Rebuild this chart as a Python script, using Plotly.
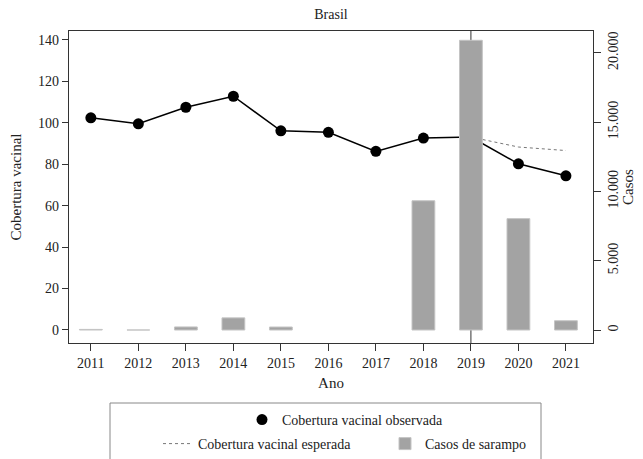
import plotly.graph_objects as go

anos = [2011, 2012, 2013, 2014, 2015, 2016, 2017, 2018, 2019, 2020, 2021]
cobertura_obs = [102.4, 99.5, 107.5, 112.8, 96.1, 95.4, 86.2, 92.6, 93.1, 80.2, 74.4]
anos_esp = [2019, 2020, 2021]
cobertura_esp = [93.1, 88.3, 86.6]
casos = [43, 2, 220, 876, 214, 0, 0, 9325, 20901, 8035, 668]

FONT = "Liberation Serif"
W, H = 643, 459
O = 8  # page body margin offset (screen = figure + O)
# target plot area on screen: x 69..593, y 31..343
L = 69 - O
T = 31 - O
R = W - (593 - O)
B = H - (343 - O)
PW, PH = W - L - R, H - T - B


def px_x(s):  # screen px -> paper x
    return (s - O - L) / PW


def px_y(s):  # screen px -> paper y
    return (H - B - (s - O)) / PH


def cx(s):  # screen px -> container x
    return (s - O) / W


def cy(s):  # screen px -> container y
    return 1 - (s - O) / H


fig = go.Figure()

# observed coverage: connecting line (no legend) + markers (legend)
fig.add_trace(go.Scatter(
    x=anos, y=cobertura_obs, mode="lines",
    line=dict(color="black", width=1.5),
    showlegend=False, hoverinfo="skip", yaxis="y"))
fig.add_trace(go.Scatter(
    x=anos, y=cobertura_obs, mode="markers",
    name="Cobertura vacinal observada",
    marker=dict(color="black", size=11),
    legend="legend", yaxis="y"))

fig.add_trace(go.Scatter(
    x=anos_esp, y=cobertura_esp, mode="lines",
    name="Cobertura vacinal esperada",
    line=dict(color="#777777", width=1, dash="dot"),
    legend="legend2", yaxis="y"))

fig.add_trace(go.Bar(
    x=anos, y=casos, name="Casos de sarampo",
    marker=dict(color="#a3a3a3",
                line=dict(color="#c4c4c4", width=[1 if c > 0 else 0 for c in casos])),
    width=0.48, legend="legend2", yaxis="y2"))

# vertical reference line at 2019
fig.add_shape(type="line", xref="x", yref="paper", x0=2019, x1=2019, y0=0, y1=1,
              line=dict(color="#333333", width=1), layer="below")

# legend frame
fig.add_shape(type="rect", xref="paper", yref="paper",
              x0=px_x(110), x1=px_x(541), y0=px_y(470), y1=px_y(403),
              line=dict(color="#888888", width=1))

# right axis title
fig.add_annotation(text="Casos", xref="paper", yref="paper", x=px_x(628), y=px_y(187),
                   textangle=-90, showarrow=False, font=dict(size=15),
                   xanchor="center", yanchor="middle")

axcol = "#333333"
fig.update_layout(
    width=W, height=H,
    margin=dict(l=L, r=R, t=T, b=B),
    paper_bgcolor="white", plot_bgcolor="white",
    separators=",.",
    showlegend=True,
    font=dict(family=FONT, size=14, color="#222222"),
    title=dict(text="Brasil", x=0.5, xref="paper", y=cy(14), yanchor="middle",
               font=dict(family=FONT, size=14, color="#222222")),
    xaxis=dict(range=[2010.54, 2021.57], tickvals=anos, ticks="outside", ticklen=7,
               tickcolor=axcol, showline=True, linecolor=axcol, linewidth=1.2, mirror=True,
               showgrid=False, zeroline=False, automargin=False,
               title=dict(text="Ano", font=dict(size=15), standoff=7),
               tickfont=dict(size=14)),
    yaxis=dict(range=[-6.3, 144.3], tickvals=[0, 20, 40, 60, 80, 100, 120, 140],
               ticks="outside", ticklen=6, tickcolor=axcol, showline=True,
               linecolor=axcol, linewidth=1.2, showgrid=False, zeroline=False,
               automargin=False,
               title=dict(text="Cobertura vacinal", font=dict(size=15), standoff=16),
               tickfont=dict(size=14)),
    yaxis2=dict(range=[-938, 21573], tickvals=[0, 5000, 10000, 15000, 20000],
                tickformat=",d", overlaying="y", side="right", tickangle=-90,
                ticks="outside", ticklen=7, tickcolor=axcol, showline=True,
                linecolor=axcol, linewidth=1.2, showgrid=False, zeroline=False,
                automargin=False, tickfont=dict(size=14)),
    legend=dict(orientation="h", xref="container", yref="container",
                x=cx(262 - 20), xanchor="left", y=cy(420), yanchor="middle",
                bgcolor="rgba(0,0,0,0)", font=dict(size=14), itemwidth=30),
    legend2=dict(orientation="h", xref="container", yref="container",
                 x=cx(198 - 40), xanchor="left", y=cy(444), yanchor="middle",
                 bgcolor="rgba(0,0,0,0)", font=dict(size=14), itemwidth=30,
                 entrywidth=182, entrywidthmode="pixels"),
)

fig.write_html("out.html")
